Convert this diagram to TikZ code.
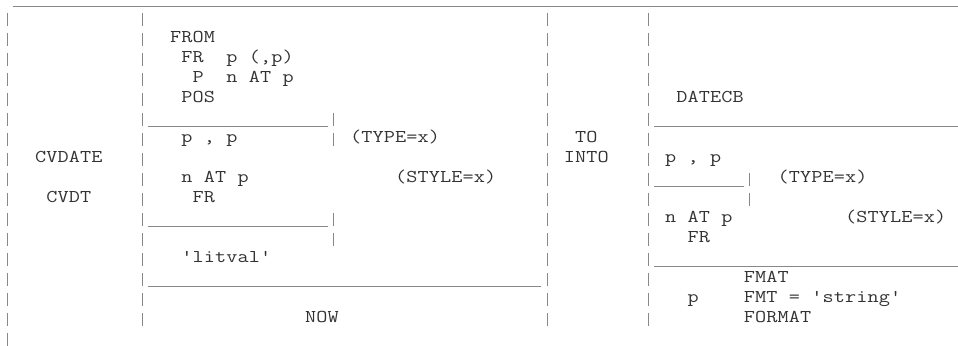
\documentclass[tikz,border=0pt]{standalone}
\usepackage{fontspec}
\setmonofont{Latin Modern Mono}[FakeStretch=1.2]
\definecolor{tcol}{HTML}{333333}
\definecolor{lcol}{HTML}{888888}
% place every character of a string in its own fixed-width cell (monospace grid)
\def\gs#1{\ifx\relax#1\else\hbox to 8.4375pt{\hss#1\hss}\expandafter\gs\fi}
\begin{document}
\begin{tikzpicture}[x=0.75pt,y=-0.75pt,
  txt/.style={anchor=base west,inner sep=0pt,outer sep=0pt,text=tcol,
    font=\ttfamily\fontsize{13.5pt}{15pt}\selectfont},
  vbar/.style={draw=lcol,line width=0.75pt},
  hbar/.style={draw=lcol,line width=0.9pt}]
\useasboundingbox (0,0) rectangle (958,346);
\def\cw{11.25}
\def\mx{1.4}
\newcommand\txtat[4]{\node[txt] (#1) at ({\mx+\cw*#2},{20*#3+2.5}) {\gs #4\relax};}
\newcommand\barat[2]{\draw[vbar] ({\mx+\cw*#1+\cw/2},{20*#2-7}) -- ({\mx+\cw*#1+\cw/2},{20*#2+6});}
\newcommand\usc[3]{\draw[hbar] ({\mx+\cw*#2},{20*#1+6.5}) -- ({\mx+\cw*(#3+1)},{20*#1+6.5});}
% frame lines
\usc{0}{1}{84}
\foreach \r in {1,...,17} {\barat{0}{\r}}
\foreach \c in {12,48,57} {\foreach \r in {1,...,16} {\barat{\c}{\r}}}
\foreach \r in {6,7,11,12} {\barat{29}{\r}}
\foreach \r in {9,10} {\barat{66}{\r}}
\usc{6}{13}{28}
\usc{6}{58}{84}
\usc{9}{58}{65}
\usc{11}{13}{28}
\usc{13}{58}{84}
\usc{14}{13}{47}
% texts
\txtat{from}{15}{2}{FROM}
\txtat{fr1}{16}{3}{FR}
\txtat{pp1}{20}{3}{p~(,p)}
\txtat{p1}{17}{4}{P}
\txtat{nat1}{20}{4}{n~AT~p}
\txtat{pos}{16}{5}{POS}
\txtat{datecb}{60}{5}{DATECB}
\txtat{pcp1}{16}{7}{p~,~p}
\txtat{type1}{31}{7}{(TYPE=x)}
\txtat{to}{51}{7}{TO}
\txtat{cvdate}{3}{8}{CVDATE}
\txtat{into}{50}{8}{INTO}
\txtat{pcp2}{59}{8}{p~,~p}
\txtat{nat2}{16}{9}{n~AT~p}
\txtat{style1}{35}{9}{(STYLE=x)}
\txtat{type2}{69}{9}{(TYPE=x)}
\txtat{cvdt}{4}{10}{CVDT}
\txtat{fr2}{17}{10}{FR}
\txtat{nat3}{59}{11}{n~AT~p}
\txtat{style2}{75}{11}{(STYLE=x)}
\txtat{fr3}{61}{12}{FR}
\txtat{litval}{16}{13}{'litval'}
\txtat{fmat}{66}{14}{FMAT}
\txtat{pfmt}{61}{15}{p}
\txtat{fmt}{66}{15}{FMT~=~'string'}
\txtat{now}{27}{16}{NOW}
\txtat{format}{66}{16}{FORMAT}
\end{tikzpicture}
\end{document}
